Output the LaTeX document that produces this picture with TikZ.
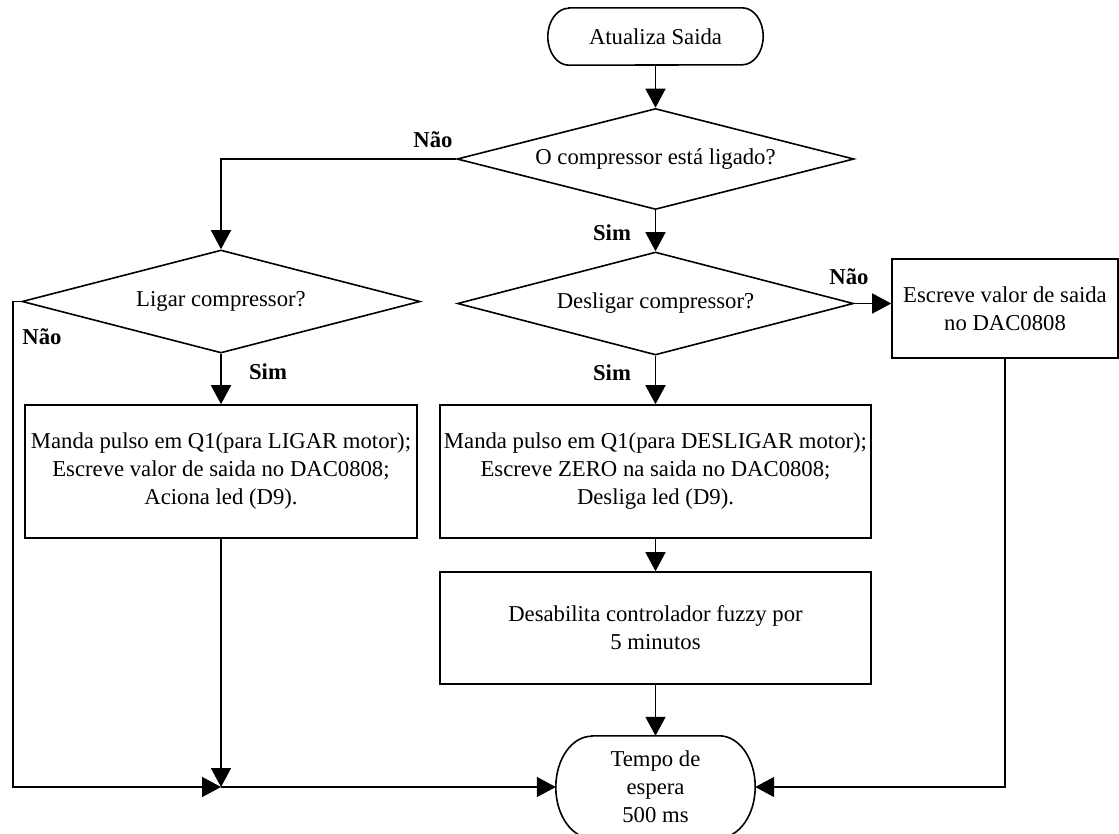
\documentclass[tikz,border=0pt]{standalone}
\usepackage{fontspec}
\setmainfont{Liberation Serif}
\usetikzlibrary{shapes.geometric,arrows.meta}
\begin{document}
\begin{tikzpicture}[x=1pt,y=1pt,
  every node/.style={font=\fontsize{22.7}{28}\selectfont},
  line/.style={line width=1.6pt},
  flow/.style={line width=1.6pt, -{Triangle[length=19pt,width=20pt]}},
  box/.style={draw, line width=1.6pt, align=center, inner sep=0pt},
  decision/.style={diamond, draw, line width=1.6pt, shape aspect=3.9,
                   inner sep=0pt, align=center},
  term/.style={align=center, inner sep=0pt},
  lbl/.style={font=\fontsize{22.7}{28}\selectfont\bfseries}]
\useasboundingbox (0,0) rectangle (1119,-833);

% terminals (outlines drawn below)
\node[term, minimum width=215pt, minimum height=57pt] (start) at (655.5,-36.5) {Atualiza Saida};
\node[term, minimum width=199pt, minimum height=102pt] (stop) at (655.5,-787) {Tempo de\\espera\\500 ms};

% decisions
\node[decision, minimum width=397pt, minimum height=101pt] (q1) at (655.5,-159) {O compressor está ligado?};
\node[decision, minimum width=398pt, minimum height=103pt] (q2) at (221,-301.5) {Ligar compressor?};
\node[decision, minimum width=396pt, minimum height=103pt] (q3) at (655.5,-303.5) {Desligar compressor?};

% process boxes
\node[box, minimum width=392pt, minimum height=133pt] (a1) at (221,-471.5)
  {Manda pulso em Q1(para LIGAR motor);\\Escreve valor de saida no DAC0808;\\Aciona led (D9).};
\node[box, minimum width=431pt, minimum height=133pt] (a2) at (655.5,-471.5)
  {Manda pulso em Q1(para DESLIGAR motor);\\Escreve ZERO na saida no DAC0808;\\Desliga led (D9).};
\node[box, minimum width=431pt, minimum height=112pt] (a3) at (655.5,-628)
  {Desabilita controlador fuzzy por\\5 minutos};
\node[box, minimum width=226pt, minimum height=99pt] (w) at (1005,-308.5)
  {Escreve valor de saida\\no DAC0808};

% rounded terminal outlines
\draw[line] ([xshift=21pt]start.north west) -- ([xshift=-21pt]start.north east)
  arc[start angle=90, end angle=-90, x radius=21pt, y radius=28.5pt]
  -- ([xshift=21pt]start.south west)
  arc[start angle=270, end angle=90, x radius=21pt, y radius=28.5pt] -- cycle;
\draw[line] ([xshift=36pt]stop.north west) -- ([xshift=-36pt]stop.north east)
  arc[start angle=90, end angle=-90, x radius=36pt, y radius=51pt]
  -- ([xshift=36pt]stop.south west)
  arc[start angle=270, end angle=90, x radius=36pt, y radius=51pt] -- cycle;

% connectors
\coordinate (join) at (221,-787);
\draw[flow] (start.south) -- (q1.north);
\draw[flow] (q1.west) -| (q2.north);
\draw[flow] (q1.south) -- (q3.north);
\draw[flow] (q2.south) -- (a1.north);
\draw[flow] (q3.south) -- (a2.north);
\draw[flow] (q3.east) -- (q3.east -| w.west);
\draw[flow] (a2.south) -- (a3.north);
\draw[flow] (a3.south) -- (stop.north);
\draw[flow] (q2.west) -- ++(-8pt,0) |- (join);
\draw[flow] (a1.south) -- (join);
\draw[flow] (join) -- (stop.west);
\draw[flow] (w.south) |- (stop.east);

% branch labels
\node[lbl] (l1) at (433,-140) {Não};
\node[lbl] (l2) at (612,-233) {Sim};
\node[lbl] (l3) at (42,-337) {Não};
\node[lbl] (l4) at (268,-372) {Sim};
\node[lbl] (l5) at (612,-373) {Sim};
\node[lbl] (l6) at (849,-277) {Não};
\end{tikzpicture}
\end{document}
